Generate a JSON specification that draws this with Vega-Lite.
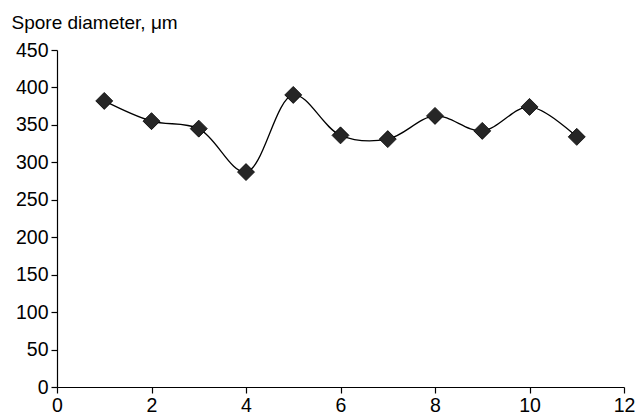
{
  "$schema": "https://vega.github.io/schema/vega-lite/v6.json",
  "width": 567,
  "height": 337,
  "autosize": {"type": "none"},
  "padding": {"left": 57, "top": 50, "right": 14, "bottom": 30},
  "background": "white",
  "config": {
    "view": {"stroke": null},
    "font": "Liberation Sans",
    "axis": {
      "grid": false,
      "domainColor": "black",
      "tickColor": "black",
      "labelColor": "black",
      "labelFont": "Liberation Sans",
      "labelFontSize": 19.5,
      "tickSize": 6,
      "domainWidth": 1.2,
      "tickWidth": 1.2
    }
  },
  "data": {
    "values": [
      {"x": 1, "d": 382},
      {"x": 2, "d": 355},
      {"x": 3, "d": 345},
      {"x": 4, "d": 287},
      {"x": 5, "d": 390},
      {"x": 6, "d": 336},
      {"x": 7, "d": 331},
      {"x": 8, "d": 362},
      {"x": 9, "d": 342},
      {"x": 10, "d": 374},
      {"x": 11, "d": 334}
    ]
  },
  "encoding": {
    "x": {
      "field": "x",
      "type": "quantitative",
      "scale": {"domain": [0, 12], "nice": false},
      "axis": {"values": [0, 2, 4, 6, 8, 10, 12], "title": null, "labelPadding": 3, "labelFlush": false}
    },
    "y": {
      "field": "d",
      "type": "quantitative",
      "scale": {"domain": [0, 450], "nice": false},
      "axis": {
        "values": [0, 50, 100, 150, 200, 250, 300, 350, 400, 450],
        "title": "Spore diameter, μm",
        "titleAngle": 0,
        "titleAlign": "left",
        "titleBaseline": "alphabetic",
        "titleX": -46,
        "titleY": -22,
        "titleFont": "Liberation Sans",
        "titleFontSize": 19,
        "titleFontWeight": "normal",
        "titleColor": "black",
        "labelPadding": 3,
        "labelFlush": false
      }
    }
  },
  "layer": [
    {
      "mark": {"type": "line", "interpolate": "catmull-rom", "color": "black", "strokeWidth": 1.3}
    },
    {
      "mark": {"type": "point", "shape": "diamond", "filled": true, "size": 289, "fill": "#262626", "stroke": "black", "strokeWidth": 0.8, "opacity": 1}
    }
  ]
}
